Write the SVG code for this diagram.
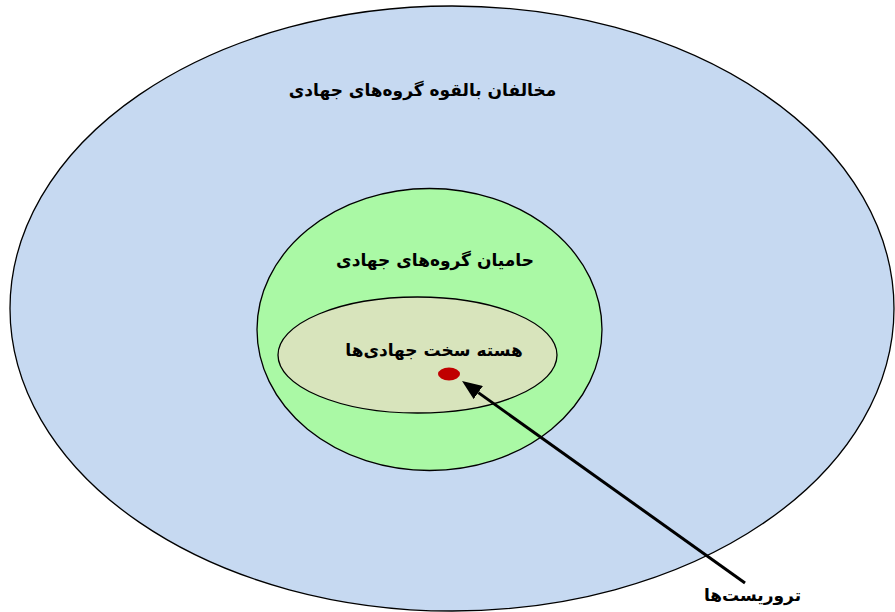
<svg xmlns="http://www.w3.org/2000/svg" width="895" height="612" viewBox="0 0 895 612">
<defs>
<style>
.lbl{font-family:"DejaVu Sans","Noto Sans",sans-serif;font-weight:bold;font-size:17px;fill:#000;text-anchor:middle}
.ring{stroke:#000;stroke-width:1.3}
</style>
<marker id="ah" markerWidth="20" markerHeight="16" refX="0" refY="8" orient="auto" markerUnits="userSpaceOnUse" viewBox="0 0 20 16">
<path d="M0,0 L20,8 L0,16 z" fill="#000"/>
</marker>
</defs>
<rect width="895" height="612" fill="#fff"/>
<g id="potential-opponents">
<ellipse class="ring" cx="452" cy="308.5" rx="442" ry="302.5" fill="#c6d9f1"/>
<text class="lbl" x="422.5" y="96" direction="rtl">مخالفان بالقوه گروه‌های جهادی</text>
</g>
<g id="supporters">
<ellipse class="ring" cx="429.5" cy="329.5" rx="172.5" ry="141" fill="#aaf9a5"/>
<text class="lbl" x="435" y="266" direction="rtl">حامیان گروه‌های جهادی</text>
</g>
<g id="hard-core">
<ellipse class="ring" cx="417.5" cy="355" rx="139.5" ry="58" fill="#d8e4bc"/>
<text class="lbl" x="434" y="356" direction="rtl">هسته سخت جهادی‌ها</text>
</g>
<g id="terrorists-dot">
<ellipse cx="449" cy="374" rx="11" ry="6.5" fill="#c00000"/>
</g>
<g id="terrorists-label">
<text class="lbl" x="752.5" y="601" direction="rtl">تروریست‌ها</text>
</g>
<g id="connectors">
<line x1="745" y1="583" x2="478.3" y2="392.6" stroke="#000" stroke-width="3" marker-end="url(#ah)"/>
</g>
</svg>
